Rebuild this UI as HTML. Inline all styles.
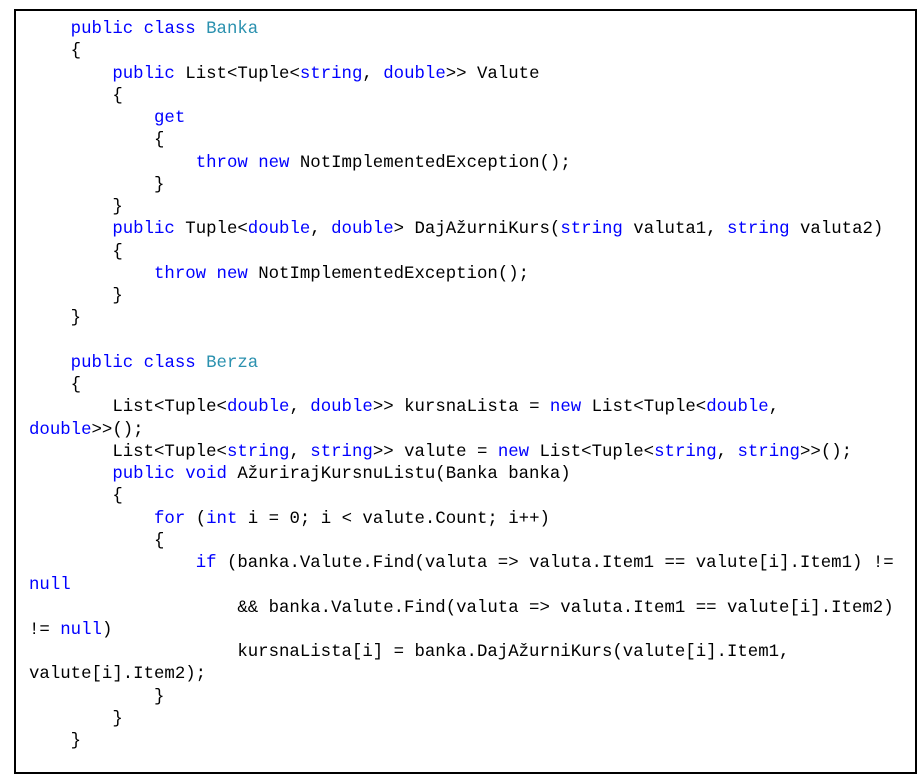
<!DOCTYPE html>
<html>
<head>
<meta charset="utf-8">
<style>
html,body{margin:0;padding:0;background:#fff;width:924px;height:778px;overflow:hidden;}
.box{position:absolute;left:14px;top:9px;width:899px;height:761px;border:2px solid #000;background:#fff;}
pre{position:absolute;left:29px;top:19px;margin:0;font-family:"Liberation Mono",monospace;font-size:17.38px;line-height:22.25px;color:#000;white-space:pre;}
.k{color:#0000ff}
.t{color:#2b91af}
</style>
</head>
<body>
<div class="box"></div>
<pre>    <span class="k">public</span> <span class="k">class</span> <span class="t">Banka</span>
    {
        <span class="k">public</span> List&lt;Tuple&lt;<span class="k">string</span>, <span class="k">double</span>&gt;&gt; Valute
        {
            <span class="k">get</span>
            {
                <span class="k">throw</span> <span class="k">new</span> NotImplementedException();
            }
        }
        <span class="k">public</span> Tuple&lt;<span class="k">double</span>, <span class="k">double</span>&gt; DajAžurniKurs(<span class="k">string</span> valuta1, <span class="k">string</span> valuta2)
        {
            <span class="k">throw</span> <span class="k">new</span> NotImplementedException();
        }
    }

    <span class="k">public</span> <span class="k">class</span> <span class="t">Berza</span>
    {
        List&lt;Tuple&lt;<span class="k">double</span>, <span class="k">double</span>&gt;&gt; kursnaLista = <span class="k">new</span> List&lt;Tuple&lt;<span class="k">double</span>,
<span class="k">double</span>&gt;&gt;();
        List&lt;Tuple&lt;<span class="k">string</span>, <span class="k">string</span>&gt;&gt; valute = <span class="k">new</span> List&lt;Tuple&lt;<span class="k">string</span>, <span class="k">string</span>&gt;&gt;();
        <span class="k">public</span> <span class="k">void</span> AžurirajKursnuListu(Banka banka)
        {
            <span class="k">for</span> (<span class="k">int</span> i = 0; i &lt; valute.Count; i++)
            {
                <span class="k">if</span> (banka.Valute.Find(valuta =&gt; valuta.Item1 == valute[i].Item1) !=
<span class="k">null</span>
                    &amp;&amp; banka.Valute.Find(valuta =&gt; valuta.Item1 == valute[i].Item2)
!= <span class="k">null</span>)
                    kursnaLista[i] = banka.DajAžurniKurs(valute[i].Item1,
valute[i].Item2);
            }
        }
    }</pre>
</body>
</html>
